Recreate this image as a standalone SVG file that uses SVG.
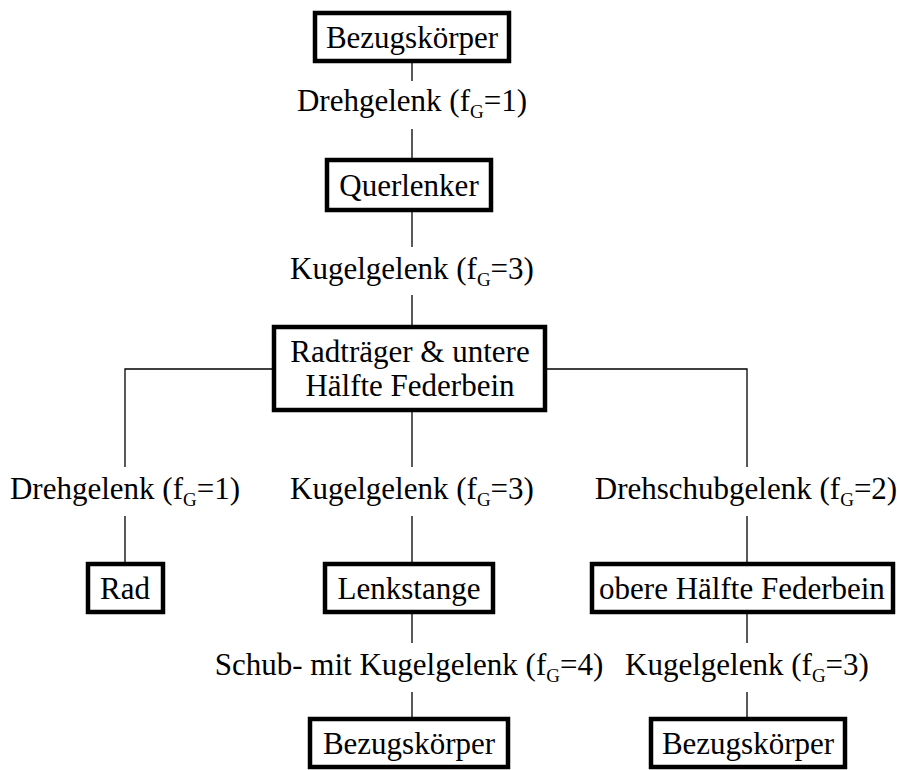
<svg xmlns="http://www.w3.org/2000/svg" width="897" height="770" viewBox="0 0 897 770">
  <style>
    text { font-family: "Liberation Serif", "Times New Roman", serif; font-size: 31px; fill: #000; text-anchor: middle; }
    .sub { font-size: 19px; }
    .box { fill: #fff; stroke: #000; stroke-width: 4.5; }
    .wire { stroke: #000; stroke-width: 1.3; fill: none; }
  </style>
  <rect width="897" height="770" fill="#fff"/>

  <!-- connectors and joint labels -->
  <g id="connectors">
    <path class="wire" d="M412 63V81 M412 129V158 M412 212V247 M412 295V325"/>
    <path class="wire" d="M272 369H125V467 M125 516V562"/>
    <path class="wire" d="M547 369H747V467 M747 516V562 M747 614V643 M747 692V717"/>
    <path class="wire" d="M412 412V467 M412 516V562 M412 614V643 M412 692V717"/>
    <text x="412" y="111">Drehgelenk (f<tspan class="sub" dy="7">G</tspan><tspan dy="-7">=1)</tspan></text>
    <text x="412" y="279">Kugelgelenk (f<tspan class="sub" dy="7">G</tspan><tspan dy="-7">=3)</tspan></text>
    <text x="125" y="499">Drehgelenk (f<tspan class="sub" dy="7">G</tspan><tspan dy="-7">=1)</tspan></text>
    <text x="412" y="499">Kugelgelenk (f<tspan class="sub" dy="7">G</tspan><tspan dy="-7">=3)</tspan></text>
    <text x="746" y="499">Drehschubgelenk (f<tspan class="sub" dy="7">G</tspan><tspan dy="-7">=2)</tspan></text>
    <text x="409" y="675">Schub- mit Kugelgelenk (f<tspan class="sub" dy="7">G</tspan><tspan dy="-7">=4)</tspan></text>
    <text x="747" y="675">Kugelgelenk (f<tspan class="sub" dy="7">G</tspan><tspan dy="-7">=3)</tspan></text>
  </g>

  <g id="bezugskoerper-top">
    <rect class="box" x="315" y="13" width="194" height="48"/>
    <text x="412" y="48">Bezugskörper</text>
  </g>
  <g id="querlenker">
    <rect class="box" x="327" y="160" width="164" height="50"/>
    <text x="409" y="196">Querlenker</text>
  </g>
  <g id="radtraeger">
    <rect class="box" x="274" y="327" width="271" height="83"/>
    <text x="410" y="362">Radträger &amp; untere</text>
    <text x="410" y="396">Hälfte Federbein</text>
  </g>
  <g id="rad">
    <rect class="box" x="88" y="564" width="75" height="48"/>
    <text x="125" y="599">Rad</text>
  </g>
  <g id="lenkstange">
    <rect class="box" x="325" y="564" width="168" height="48"/>
    <text x="409" y="599">Lenkstange</text>
  </g>
  <g id="obere-haelfte">
    <rect class="box" x="592" y="564" width="301" height="48"/>
    <text x="742" y="599">obere Hälfte Federbein</text>
  </g>
  <g id="bezugskoerper-mid">
    <rect class="box" x="310" y="719" width="198" height="48"/>
    <text x="409" y="754">Bezugskörper</text>
  </g>
  <g id="bezugskoerper-right">
    <rect class="box" x="651" y="719" width="194" height="48"/>
    <text x="748" y="754">Bezugskörper</text>
  </g>
</svg>
